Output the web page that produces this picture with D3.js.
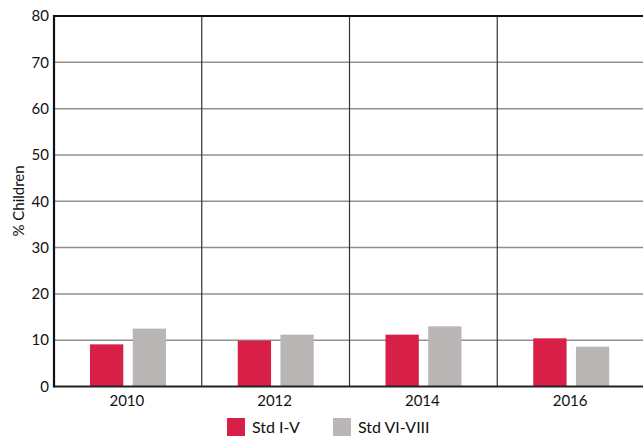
<!DOCTYPE html>
<html>
<head>
  <meta http-equiv="Content-Type" content="text/html;charset=utf-8">
  <title>% Children</title>
  <script src="https://d3js.org/d3.v7.min.js"></script>
  <style type="text/css">
    body { margin: 0; background: #fff; }
    text { font-family: Lato, "Open Sans", sans-serif; fill: #111; }
  </style>
</head>
<body>
  <svg width="643" height="440"></svg>
  <script type='text/javascript'>
    const years = ['2010', '2012', '2014', '2016'];
    const stdOneToFive = [9.1, 9.9, 11.2, 10.4];
    const stdSixToEight = [12.5, 11.2, 13.0, 8.6];
    const seriesNames = ['Std I-V', 'Std VI-VIII'];
    const yTicks = [0, 10, 20, 30, 40, 50, 60, 70, 80];

    const colors = ['#d81f48', '#bab6b5'];
    const svg = d3.select('svg');
    const plotL = 54, plotR = 643, plotT = 16, plotB = 386.5;

    const x = d3.scaleBand().domain(years).range([plotL, plotR + 2]);
    const sub = d3.scaleBand().domain(seriesNames)
      .range([36, 112]).paddingInner(0.22);
    const y = d3.scaleLinear().domain([0, 80]).range([plotB, plotT]);

    // horizontal grid
    svg.append('g').selectAll('line')
      .data(yTicks.filter(t => t > 0 && t < 80))
      .join('line')
        .attr('x1', plotL).attr('x2', plotR)
        .attr('y1', d => y(d)).attr('y2', d => y(d))
        .attr('stroke', '#8f8f8f').attr('stroke-width', 1.5);

    // category separators
    svg.append('g').selectAll('line')
      .data(years.slice(1))
      .join('line')
        .attr('x1', d => x(d)).attr('x2', d => x(d))
        .attr('y1', plotT).attr('y2', plotB)
        .attr('stroke', '#333').attr('stroke-width', 1.2);

    // bars
    const rows = years.map((yr, i) => ({ year: yr, vals: [stdOneToFive[i], stdSixToEight[i]] }));
    svg.append('g').selectAll('g')
      .data(rows)
      .join('g')
        .attr('transform', d => `translate(${x(d.year)},0)`)
      .selectAll('rect')
      .data(d => d.vals.map((v, k) => ({ v, name: seriesNames[k], k })))
      .join('rect')
        .attr('x', d => sub(d.name))
        .attr('width', sub.bandwidth())
        .attr('y', d => y(d.v))
        .attr('height', d => y(0) - y(d.v))
        .attr('fill', d => colors[d.k]);

    // frame: top, left, bottom
    svg.append('line').attr('x1', plotL).attr('x2', plotR)
      .attr('y1', plotT).attr('y2', plotT)
      .attr('stroke', '#111').attr('stroke-width', 2.2);
    svg.append('line').attr('x1', plotL).attr('x2', plotR)
      .attr('y1', plotB).attr('y2', plotB)
      .attr('stroke', '#222').attr('stroke-width', 2);
    svg.append('line').attr('x1', plotL).attr('x2', plotL)
      .attr('y1', plotT - 1).attr('y2', plotB + 1)
      .attr('stroke', '#111').attr('stroke-width', 2.2);

    // y tick labels
    svg.append('g').selectAll('text')
      .data(yTicks)
      .join('text')
        .attr('x', plotL - 5)
        .attr('y', d => y(d))
        .attr('dy', '0.35em')
        .attr('text-anchor', 'end')
        .attr('font-size', 15)
        .text(d => d);

    // x labels
    svg.append('g').selectAll('text')
      .data(years)
      .join('text')
        .attr('x', d => x(d) + x.bandwidth() / 2 - 1)
        .attr('y', 406)
        .attr('text-anchor', 'middle')
        .attr('font-size', 15)
        .text(d => d);

    // y axis title
    svg.append('text')
      .attr('transform', 'translate(24,201) rotate(-90)')
      .attr('text-anchor', 'middle')
      .attr('font-size', 15)
      .text('% Children');

    // legend
    const legendX = [227, 333];
    const legend = svg.append('g').selectAll('g')
      .data(seriesNames)
      .join('g')
        .attr('transform', (d, i) => `translate(${legendX[i]},418)`);
    legend.append('rect')
      .attr('width', 18).attr('height', 18)
      .attr('fill', (d, i) => colors[i]);
    legend.append('text')
      .attr('x', 25).attr('y', 15)
      .attr('font-size', 16)
      .text(d => d);
  </script>
</body>
</html>
